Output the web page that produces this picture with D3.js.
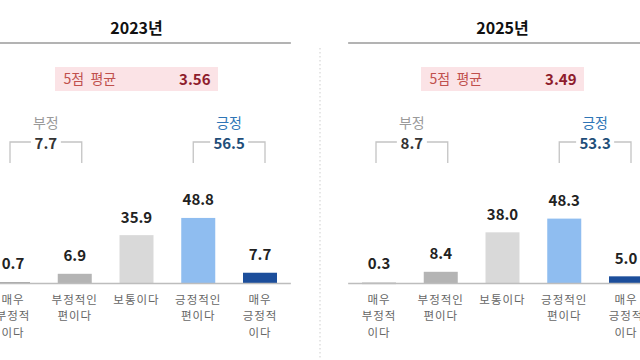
<!DOCTYPE html>
<html><head><meta charset="utf-8">
<script src="https://cdn.jsdelivr.net/npm/d3@7/dist/d3.min.js"></script>
<style>
html,body{margin:0;padding:0;background:#fff;}
svg{display:block;font-family:"Noto Sans CJK KR","Noto Sans",sans-serif;}
</style></head>
<body>
<svg id="chart" width="640" height="360"></svg>
<script>
const categories = ["매우 부정적이다","부정적인 편이다","보통이다","긍정적인 편이다","매우 긍정적이다"];
const categoryLines = [["매우","부정적","이다"],["부정적인","편이다"],["보통이다"],["긍정적인","편이다"],["매우","긍정적","이다"]];
const years = ["2023년","2025년"];
const values2023 = [0.7, 6.9, 35.9, 48.8, 7.7];
const values2025 = [0.3, 8.4, 38.0, 48.3, 5.0];
const averages = [3.56, 3.49];
const negativeTotals = [7.7, 8.7];
const positiveTotals = [56.5, 53.3];
const averageLabel = "5점  평균";
const negLabel = "부정", posLabel = "긍정";

const seriesValues = [values2023, values2025];
const barColors = ["#a3a3a3","#b4b4b4","#d9d9d9","#8fbdf0","#1c4e9b"];
const panelOffsets = [0, 366];

const svg = d3.select("#chart");
const baseY = 283;
const y = d3.scaleLinear().domain([0, 60]).range([baseY, baseY - 80]);
const barW = 34;

// separator
svg.append("line").attr("x1",320).attr("x2",320).attr("y1",48).attr("y2",360)
  .attr("stroke","#d6d6d6").attr("stroke-width",1.2).attr("stroke-dasharray","1.5,2.5");

years.forEach((yr, i) => {
  const off = panelOffsets[i];
  const x = d3.scalePoint().domain(categories).range([13 + off, 260 + off]);
  const step = x.step();
  const g = svg.append("g");
  const x0 = x(categories[0]) - step/2, x1 = x(categories[4]) + step/2;
  const cx = (x(categories[0]) + x(categories[4]))/2;

  // title
  g.append("text").attr("x", cx).attr("y", 34).attr("text-anchor","middle")
    .attr("font-size",16).attr("font-weight","bold").attr("fill","#111").text(yr);
  g.append("line").attr("x1",x0).attr("x2",x1).attr("y1",43).attr("y2",43)
    .attr("stroke","#9a9a9a").attr("stroke-width",1.5);

  // average box
  g.append("rect").attr("x", cx-81.5).attr("y",67).attr("width",163).attr("height",24).attr("fill","#fbe3e6");
  g.append("text").attr("x", cx-73).attr("y",84).attr("font-size",14).attr("fill","#c0504d")
    .attr("xml:space","preserve").style("white-space","pre").text(averageLabel);
  g.append("text").attr("x", cx+74).attr("y",84.5).attr("text-anchor","end").attr("font-size",15)
    .attr("font-weight","bold").attr("fill","#8e1c2c").text(averages[i].toFixed(2));

  // brackets
  const brackets = [
    {a: x(categories[0]) - 3, b: x(categories[1]) + 7, label: negLabel, val: negativeTotals[i], lc:"#9a9a9a", vc:"#333", w:24},
    {a: x(categories[3]) - 5, b: x(categories[4]) + 5, label: posLabel, val: positiveTotals[i], lc:"#2e75b6", vc:"#1f4e79", w:32}
  ];
  brackets.forEach(br => {
    const m = (br.a + br.b)/2;
    const bg = g.append("g").attr("stroke","#c4c4c4").attr("stroke-width",1.3).attr("fill","none");
    bg.append("path").attr("d", `M${br.a},163V142H${m-br.w/2-3}`);
    bg.append("path").attr("d", `M${m+br.w/2+3},142H${br.b}V163`);
    g.append("text").attr("x",m).attr("y",128).attr("text-anchor","middle").attr("font-size",14)
      .attr("fill",br.lc).text(br.label);
    g.append("text").attr("x",m).attr("y",148.5).attr("text-anchor","middle").attr("font-size",15)
      .attr("font-weight","bold").attr("fill",br.vc).text(br.val.toFixed(1));
  });

  // bars
  const vals = seriesValues[i];
  g.selectAll("rect.bar").data(vals).join("rect").attr("class","bar")
    .attr("x",(d,j)=>x(categories[j]) - barW/2).attr("width",barW)
    .attr("y",d=>y(d)).attr("height",d=>Math.max(baseY - y(d), 1.5))
    .attr("fill",(d,j)=>barColors[j]);
  g.selectAll("text.val").data(vals).join("text").attr("class","val")
    .attr("x",(d,j)=>x(categories[j])).attr("y",d=>Math.min(y(d), baseY-2) - 12.5)
    .attr("text-anchor","middle").attr("font-size",15).attr("font-weight","bold").attr("fill","#222")
    .text(d=>d.toFixed(1));

  // baseline
  g.append("line").attr("x1",x0).attr("x2",x1).attr("y1",baseY+0.5).attr("y2",baseY+0.5)
    .attr("stroke","#bdbdbd").attr("stroke-width",1.5);

  // category labels (one text per line)
  categories.forEach((c, j) => {
    categoryLines[j].forEach((ln, k) => {
      g.append("text").attr("x", x(c)).attr("y", 303.5 + k*16.8).attr("text-anchor","middle")
        .attr("font-size",11.5).attr("letter-spacing",1).attr("fill","#666").text(ln);
    });
  });
});
</script>
</body></html>
